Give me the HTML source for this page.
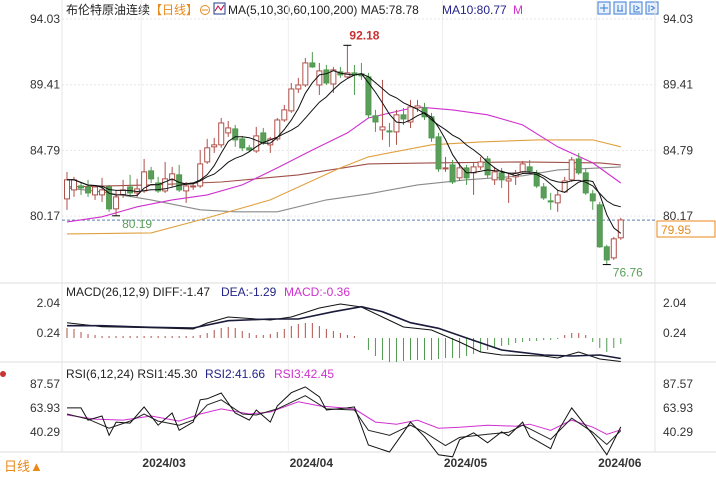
<!DOCTYPE html>
<html><head><meta charset="utf-8">
<style>
html,body{margin:0;padding:0;background:#fff;}
body{width:716px;height:474px;overflow:hidden;font-family:"Liberation Sans","Noto Sans CJK SC",sans-serif;}
svg text{font-family:"Liberation Sans","Noto Sans CJK SC",sans-serif;}
</style></head>
<body>
<svg id="chart" width="716" height="474" viewBox="0 0 716 474" xmlns="http://www.w3.org/2000/svg">
<g font-size="12">
<text x="66" y="14" fill="#222">布伦特原油连续</text>
<text x="150" y="14" fill="#e8891a">【日线】</text>
<circle cx="205" cy="10" r="4.5" fill="none" stroke="#e8891a"/>
<line x1="202" y1="10" x2="208" y2="10" stroke="#e8891a"/>
<rect x="214" y="3" width="11" height="11" fill="#fff" stroke="#223a8a"/>
<polyline points="215,11 218,6 221,10 224,5" fill="none" stroke="#c03" stroke-width="1"/>
<text x="228" y="14" fill="#222">MA(5,10,30,60,100,200) MA5:78.78</text>
<text x="442" y="14" fill="#23238a">MA10:80.77</text>
<text x="513" y="14" fill="#d030d0">M</text>
</g>
<g fill="#e8f0fb" stroke="#3a7bd5">
<rect x="598" y="2" width="12" height="12"/>
<rect x="614" y="2" width="12" height="12"/>
<rect x="630" y="2" width="12" height="12"/>
<rect x="646" y="2" width="12" height="12"/>
<path d="M604,4v8M600,8h8M618,5v6M622,5v6M617,11h6M634,5v7h6M636,6l3,2-3,2M649,5v7M651,6l4,2-4,2" stroke="#3a7bd5" fill="none"/>
</g>
<g id="grid"></g>
<g id="main"></g>
<g id="macd"></g>
<g id="rsi"></g>
<text x="4" y="471" font-size="13" fill="#e8891a">日线▲</text>
<circle cx="3" cy="374" r="3" fill="#c33"/>
</svg>
<script>
// ---------- data ----------
const dates = ["2024/03","2024/04","2024/05","2024/06"];
const dateIdx = [11,32,54,76];
const opens = [81.38,82.01,82.29,82.22,81.66,81.66,82.22,80.68,81.66,82.22,81.80,81.94,83.35,82.50,81.94,82.72,83.07,81.94,82.22,82.29,83.98,85.04,85.18,86.02,86.30,85.60,84.97,84.75,86.02,85.18,85.60,86.93,87.57,89.11,89.39,90.94,89.39,90.45,89.46,90.31,89.96,90.24,90.17,89.96,87.22,86.23,86.16,86.09,87.29,86.79,87.78,87.78,87.15,85.74,83.49,83.77,82.86,83.56,83.21,83.63,84.19,82.72,83.21,82.64,82.93,83.28,83.63,83.21,82.22,81.24,81.10,81.87,82.72,84.19,83.21,81.73,80.96,78.01,77.23,78.64];
const closes = [82.72,82.72,82.15,81.80,82.22,82.01,80.68,81.52,82.01,81.80,82.08,83.28,82.79,81.94,82.79,83.14,82.01,82.29,82.29,83.84,84.97,85.18,86.72,86.37,85.53,84.97,84.82,85.81,85.32,85.60,86.93,87.64,89.11,89.39,90.94,90.66,90.38,89.53,90.45,90.10,90.24,90.10,90.03,87.29,86.79,86.44,86.09,87.29,87.00,87.85,87.92,87.15,85.67,83.49,83.56,82.57,83.56,82.86,83.63,83.98,83.07,83.28,82.72,82.79,83.21,83.84,83.35,82.29,81.45,81.17,81.66,82.64,84.12,83.21,81.80,81.24,78.01,77.09,78.57,79.90];
const highs = [83.28,82.93,82.57,82.72,82.36,82.86,82.36,82.01,82.72,83.07,82.79,84.19,83.63,82.93,83.98,83.63,83.77,82.57,82.43,84.82,85.60,85.67,87.07,86.86,86.58,85.81,85.18,86.44,86.37,85.74,87.07,87.99,89.53,89.89,91.29,91.71,90.94,90.80,90.66,90.66,92.18,90.80,90.94,90.24,87.64,89.75,86.72,87.64,87.78,88.34,88.34,88.13,87.43,86.02,84.33,84.12,83.98,83.77,83.98,84.33,84.40,83.63,83.56,83.21,83.42,84.05,84.12,83.42,82.50,81.80,82.01,82.93,84.33,84.61,83.56,82.01,81.17,78.15,78.71,80.05];
const lows = [80.61,81.52,81.66,81.52,81.31,81.17,80.47,80.19,81.45,81.52,81.52,81.80,82.50,81.80,81.80,82.22,81.87,81.10,82.01,82.15,83.84,84.61,84.97,85.74,85.04,84.75,84.68,84.61,85.18,84.61,85.46,86.79,87.43,88.83,89.25,90.59,88.69,89.39,88.83,89.89,89.89,88.69,89.75,87.07,86.09,85.53,85.04,85.18,86.58,86.37,87.50,86.93,85.39,83.28,83.28,82.43,82.64,82.36,81.66,83.42,82.86,82.36,82.15,81.10,82.36,83.21,83.21,82.15,81.31,80.61,80.47,81.80,82.57,83.07,81.66,80.61,77.94,76.76,77.09,78.50];
const ma30Idx = [0,5,10,15,20,25,30,35,40,43,48,50,55,60,65,70,75,79];
const ma30Val = [79.76,80.12,80.82,81.31,81.66,82.36,83.56,84.82,86.02,87.07,87.64,87.85,87.64,87.29,86.58,85.04,83.91,82.50];
const ma60Idx = [0,12,19,29,39,43,52,59,67,75,79];
const ma60Val = [78.92,78.99,79.90,81.31,83.56,84.33,85.18,85.39,85.53,85.53,85.04];
const ma100Idx = [0,12,22,33,43,52,65,76,79];
const ma100Val = [82.22,82.36,82.57,83.07,83.84,83.91,83.98,83.91,83.77];
const ma200Idx = [0,5,12,19,24,30,37,43,50,57,65,70,76,79];
const ma200Val = [82.15,81.87,81.31,80.61,80.47,80.47,81.31,81.73,82.36,82.72,83.00,83.42,83.56,83.63];
const priceTicks = [94.03,89.41,84.79,80.17];
const macdHist = [0.60,0.54,0.36,0.24,0.18,0.12,0.12,0.12,0.12,0.12,0.12,0.12,0.12,0.12,0.12,0.12,0.12,0.12,0.12,0.18,0.30,0.48,0.60,0.66,0.60,0.42,0.30,0.18,0.18,0.24,0.36,0.54,0.72,0.84,0.90,0.90,0.72,0.54,0.42,0.30,0.18,0.12,0,-0.72,-1.08,-1.32,-1.44,-1.44,-1.38,-1.32,-1.32,-1.32,-1.32,-1.26,-1.20,-1.20,-1.20,-1.08,-0.96,-0.84,-0.72,-0.60,-0.48,-0.42,-0.30,-0.24,-0.18,-0.18,-0.12,-0.12,-0.06,0.18,0.30,0.30,0.18,-0.24,-0.60,-0.84,-0.60,-0.36];
const diffIdx = [0,5,12,18,20,23,29,32,36,39,42,45,48,52,56,59,62,68,70,73,76,79];
const diffVal = [0.86,0.62,0.56,0.48,0.84,1.20,1.02,1.20,1.74,1.98,1.80,1.20,0.60,0.42,-0.30,-0.90,-1.08,-1.14,-1.26,-0.90,-1.32,-1.47];
const deaIdx = [0,5,12,18,23,29,33,38,42,45,49,53,57,62,68,72,76,79];
const deaVal = [0.68,0.68,0.58,0.54,0.98,1.08,1.08,1.52,1.82,1.52,0.86,0.52,-0.06,-0.78,-1.08,-1.14,-1.08,-1.29];
const macdTicks = [2.04,0.24];
const rsi1Idx = [0,2,3,5,6,7,9,11,13,15,16,18,19,20,22,24,26,27,29,30,32,34,36,37,40,41,43,46,48,49,51,53,55,56,58,60,62,63,65,66,69,70,72,75,77,79];
const rsi1Val = [64,64,52,56,37,50,49,65,47,59,42,50,72,73,78.7,59,52,62,50,66,79,84.7,75,62,64,65,27.5,20.6,40,50,35.6,17.8,15.8,32.6,39.5,29.6,40.5,36.6,50,35.6,23.8,40.5,64,37.5,17.8,45.3];
const rsi2Idx = [0,3,6,9,11,13,16,18,20,22,25,27,30,34,37,41,43,46,49,51,54,56,60,63,65,69,72,75,77,79];
const rsi2Val = [58,53,44,51,58,51,47,52,67,72,58,57,63,76,63,62,42,37,47,40,27,35,38,40,47,33,54,40,28,41.66];
const rsi3Idx = [0,4,8,12,16,19,22,26,29,33,36,41,44,47,50,53,56,60,64,66,69,72,75,77,79];
const rsi3Val = [57,53,52,56,51,58,63,58,60,70,66,63,50,48,52,44,45,47,46,48,42,52,45,38,42.45];
const rsiTicks = [87.57,63.93,40.29];

// ---------- scales ----------
const NS = "http://www.w3.org/2000/svg";
const L = 62, R = 655;
function xAt(i){ return 67 + i*7.01; }
function yP(p){ return 19 + (94.03-p)*14.22; }
function yM(v){ return 303 + (2.04-v)*16.67; }
function yR(v){ return 384 + (87.57-v)*1.015; }
function mk(tag, attrs, parent){
  const e = document.createElementNS(NS, tag);
  for (const k in attrs) e.setAttribute(k, attrs[k]);
  parent.appendChild(e); return e;
}
function txt(s, x, y, fill, parent, anchor){
  const t = mk("text", {x:x, y:y, fill:fill, "font-size":12, "text-anchor":anchor||"start"}, parent);
  t.textContent = s; return t;
}
const grid = document.getElementById("grid");
const main = document.getElementById("main");
const macd = document.getElementById("macd");
const rsi = document.getElementById("rsi");

[[283],[362],[452]].forEach(function(a){
  const l = mk("line",{x1:0,y1:a[0],x2:716,y2:a[0],stroke:"#ddd"},grid);
  
  
});
mk("line",{x1:L,y1:0,x2:L,y2:452,stroke:"#e4e4e4"},grid);
mk("line",{x1:R,y1:0,x2:R,y2:452,stroke:"#e4e4e4"},grid);

dates.forEach(function(d,k){
  const x = xAt(dateIdx[k]);
  const g = mk("line",{x1:x-3,y1:0,x2:x-3,y2:452,stroke:"#eee"},grid);
  
  
  const t = txt(d, x+20, 467, "#333", grid, "middle");
  t.setAttribute("font-weight","bold");
  
  
});

priceTicks.forEach(function(p){
  const y = yP(p);
  mk("line",{x1:L,y1:y,x2:R,y2:y,stroke:"#e6e6e6","stroke-dasharray":"2,2"},grid);
  const a = txt(p.toFixed(2), 60, y+4, "#333", main, "end");
  
  
  const b = txt(p.toFixed(2), 663, y+4, "#333", main);
  
  
});

const cur = closes[closes.length-1];
const cl = mk("line",{x1:L,y1:yP(80.17)+4,x2:R,y2:yP(80.17)+4,stroke:"#5a7fb0","stroke-dasharray":"3,2"},main);


const box = mk("rect",{x:657,y:221,width:58,height:16,fill:"#fff",stroke:"#e8891a"},main);


const bt = txt(cur.toFixed(2).replace("79.90","79.95"), 661, 234, "#e8891a", main);



function seriesPath(idx, val, ys){
  return idx.map(function(i,k){ return (k?"L":"M")+xAt(i).toFixed(1)+","+ys(val[k]).toFixed(1); }).join("");
}
function maOf(n){
  const out=[];
  for(let i=0;i<closes.length;i++){
    const s=Math.max(0,i-n+1); let sum=0;
    for(let j=s;j<=i;j++) sum+=closes[j];
    out.push(sum/(i-s+1));
  }
  return out;
}
const allIdx = closes.map(function(_,i){return i;});
[[ma200Idx,ma200Val,"#8a8a8a","ma200-line"],[ma100Idx,ma100Val,"#a05048","ma100-line"],[ma60Idx,ma60Val,"#e0a040","ma60-line"],[ma30Idx,ma30Val,"#d030d0","ma30-line"]].forEach(function(s){
  const p = mk("path",{d:seriesPath(s[0],s[1],yP),fill:"none",stroke:s[2],"stroke-width":1.1},main);
  
  
});

for(let i=0;i<closes.length;i++){
  const x = xAt(i), o=opens[i], c=closes[i];
  const up = c>=o;
  const col = up ? "#b0504a" : "#4f9a4f";
  const w = mk("line",{x1:x,y1:yP(highs[i]),x2:x,y2:yP(lows[i]),stroke:col},main);
  
  
  const top = yP(Math.max(o,c)), bot = yP(Math.min(o,c));
  const r = mk("rect",{x:x-2.5,y:top,width:5,height:Math.max(1,bot-top),fill:up?"#fff":"#5a9e5a",stroke:col,"stroke-width":1},main);
  
  
}
const ma10 = maOf(10), ma5 = maOf(5);
[[ma10,"ma10-line"],[ma5,"ma5-line"]].forEach(function(s){
  const p = mk("path",{d:seriesPath(allIdx,s[0],yP),fill:"none",stroke:"#111","stroke-width":1},main);
  
  
});

function extremes(){
  let hi=0, lo=0;
  for(let i=0;i<highs.length;i++){ if(highs[i]>highs[hi]) hi=i; if(lows[i]<lows[lo]) lo=i; }
  return [hi,lo];
}
const ex = extremes();
const hiT = txt(highs[ex[0]].toFixed(2), xAt(ex[0])+2, yP(highs[ex[0]])-6, "#c83030", main);
hiT.setAttribute("font-weight","bold");


mk("path",{d:"M"+(xAt(ex[0])-4)+","+yP(highs[ex[0]])+"h8",stroke:"#000"},main);
const loT = txt(lows[ex[1]].toFixed(2), xAt(ex[1])+6, yP(lows[ex[1]])+12, "#5a9e5a", main);


mk("path",{d:"M"+(xAt(ex[1])-4)+","+yP(lows[ex[1]])+"h8",stroke:"#000"},main);
const lo2 = txt(lows[7].toFixed(2), xAt(7)+6, yP(lows[7])+12, "#5a9e5a", main);


mk("path",{d:"M"+(xAt(7)-4)+","+yP(lows[7])+"h8",stroke:"#000"},main);

const mh = txt("MACD(26,12,9) DIFF:-1.47", 66, 296, "#222", macd);


const mh2 = txt("DEA:-1.29", 221, 296, "#23238a", macd);


const mh3 = txt("MACD:-0.36", 284, 296, "#d030d0", macd);


macdTicks.forEach(function(v){
  const a = txt(v.toFixed(2), 60, yM(v)+4, "#333", macd, "end");
  
  
  const b = txt(v.toFixed(2), 663, yM(v)+4, "#333", macd);
  
  
});
macdHist.forEach(function(v,i){
  const b = mk("line",{x1:xAt(i),y1:yM(0)+1,x2:xAt(i),y2:yM(v)+1,stroke:v>=0?"#b0504a":"#4f9a4f"},macd);
  
  
});
const dl = mk("path",{d:seriesPath(diffIdx,diffVal,yM),fill:"none",stroke:"#111","stroke-width":1},macd);


const el = mk("path",{d:seriesPath(deaIdx,deaVal,yM),fill:"none",stroke:"#1a1a3a","stroke-width":1.6},macd);



const rh = txt("RSI(6,12,24) RSI1:45.30", 66, 378, "#222", rsi);


const rh2 = txt("RSI2:41.66", 205, 378, "#23238a", rsi);


const rh3 = txt("RSI3:42.45", 274, 378, "#d030d0", rsi);


rsiTicks.forEach(function(v){
  const a = txt(v.toFixed(2), 60, yR(v)+4, "#333", rsi, "end");
  
  
  const b = txt(v.toFixed(2), 663, yR(v)+4, "#333", rsi);
  
  
});
[[rsi3Idx,rsi3Val,"#d030d0","rsi3-line"],[rsi2Idx,rsi2Val,"#222","rsi2-line"],[rsi1Idx,rsi1Val,"#111","rsi1-line"]].forEach(function(s){
  const p = mk("path",{d:seriesPath(s[0],s[1],yR),fill:"none",stroke:s[2],"stroke-width":1},rsi);
  
  
});
</script>
</body></html>
